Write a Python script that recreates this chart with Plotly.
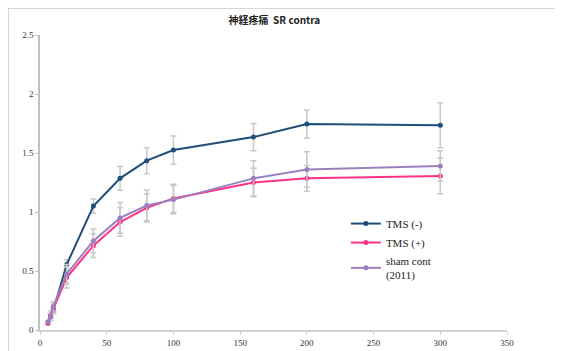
import plotly.graph_objects as go

x_vals = [6, 8, 10, 20, 40, 60, 80, 100, 160, 200, 300]

tms_minus = [0.06, 0.12, 0.17, 0.555, 1.05, 1.285, 1.435, 1.525, 1.635, 1.745, 1.735]
tms_minus_err = [0.01, 0.02, 0.02, 0.04, 0.06, 0.10, 0.11, 0.12, 0.115, 0.12, 0.19]

tms_plus = [0.057, 0.13, 0.18, 0.445, 0.715, 0.915, 1.035, 1.115, 1.25, 1.285, 1.305]
tms_plus_err = [0.01, 0.03, 0.04, 0.09, 0.10, 0.12, 0.12, 0.12, 0.12, 0.11, 0.15]

sham = [0.07, 0.11, 0.20, 0.475, 0.755, 0.95, 1.055, 1.105, 1.285, 1.36, 1.39]
sham_err = [0.01, 0.03, 0.04, 0.08, 0.10, 0.13, 0.13, 0.12, 0.15, 0.15, 0.13]

names = ["TMS (-)", "TMS (+)", "sham cont<br>(2011)"]
colors = ["#1f4e79", "#ff3385", "#9b80c0"]

title_text = "<b>神経疼痛  SR contra</b>"
x_ticks = [0, 50, 100, 150, 200, 250, 300, 350]
y_ticks = [0, 0.5, 1, 1.5, 2, 2.5]
y_tick_labels = ["0", "0.5", "1", "1.5", "2", "2.5"]

fig = go.Figure()
for name, ys, errs, col in [
    (names[0], tms_minus, tms_minus_err, colors[0]),
    (names[1], tms_plus, tms_plus_err, colors[1]),
    (names[2], sham, sham_err, colors[2]),
]:
    fig.add_trace(go.Scatter(
        x=x_vals, y=ys, name=name, mode="lines+markers",
        line=dict(color=col, width=2),
        marker=dict(color=col, size=5),
        error_y=dict(type="data", array=errs, visible=True,
                     color="#c8c8c8", thickness=1.5, width=3),
    ))

serif = "Liberation Serif"
fig.update_layout(
    width=555, height=343,
    margin=dict(l=32, r=56, t=27, b=21),
    paper_bgcolor="white", plot_bgcolor="white",
    title=dict(text=title_text, x=0.48, xanchor="center", y=0.965, yanchor="middle",
               font=dict(family="Noto Sans CJK JP, Arial, sans-serif", size=10, color="#222")),
    xaxis=dict(range=[0, 350], tickvals=x_ticks, showgrid=False, zeroline=False,
               showline=True, linecolor="#d0d0d0", linewidth=1.5, automargin=False,
               ticks="outside", ticklen=3, tickcolor="#d0d0d0",
               tickfont=dict(family=serif, size=9, color="#333")),
    yaxis=dict(range=[0, 2.5], tickvals=y_ticks, ticktext=y_tick_labels, showgrid=False,
               zeroline=False, showline=True, linecolor="#c0c0c0", linewidth=1.5, automargin=False,
               ticks="outside", ticklen=3, tickcolor="#c0c0c0",
               tickfont=dict(family=serif, size=9, color="#333")),
    legend=dict(x=0.655, y=0.41, xanchor="left", yanchor="top",
                font=dict(family=serif, size=11, color="#222"),
                bgcolor="rgba(0,0,0,0)", tracegroupgap=4, itemwidth=30),
    showlegend=True,
    shapes=[
        dict(type="line", xref="paper", yref="paper", x0=-0.0685, x1=1.2, y0=1.0915, y1=1.0915,
             line=dict(color="#c8c8c8", width=1.5)),
        dict(type="line", xref="paper", yref="paper", x0=-0.0685, x1=-0.0685, y0=1.0915, y1=-0.2,
             line=dict(color="#c8c8c8", width=1.5)),
    ],
)

fig.write_html("out.html")
